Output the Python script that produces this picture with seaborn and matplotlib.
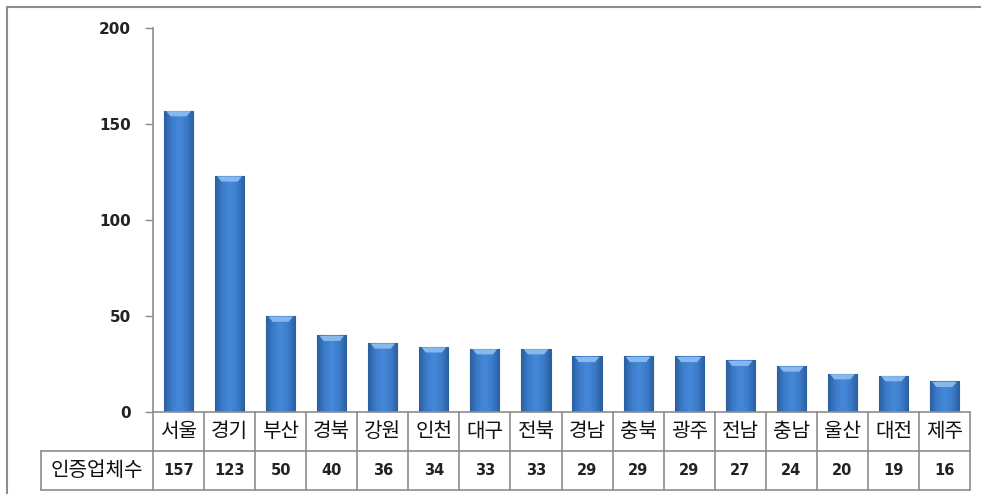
import matplotlib
matplotlib.use("Agg")
import matplotlib.pyplot as plt
import matplotlib.transforms as mtransforms
from matplotlib.lines import Line2D
from matplotlib.colors import LinearSegmentedColormap
import numpy as np
import seaborn as sns
import pandas as pd

regions = ["서울", "경기", "부산", "경북", "강원", "인천", "대구", "전북", "경남",
           "충북", "광주", "전남", "충남", "울산", "대전", "제주"]
counts = [157, 123, 50, 40, 36, 34, 33, 33, 29, 29, 29, 27, 24, 20, 19, 16]
row_label = "인증업체수"
yticks = [0, 50, 100, 150, 200]

sns.set_theme(style="white")
plt.rcParams['font.family'] = ['Noto Sans CJK KR', 'DejaVu Sans']

W, H = 981, 494
fig = plt.figure(figsize=(W / 100, H / 100), dpi=100)
fig.patch.set_facecolor("white")

x0, x1, ytop, ybot = 153, 970, 28, 412
ax = fig.add_axes([x0 / W, 1 - ybot / H, (x1 - x0) / W, (ybot - ytop) / H])

df = pd.DataFrame({"region": regions, "count": counts})
sns.barplot(data=df, x="region", y="count", ax=ax, color="#3D7ED0",
            width=0.57, edgecolor="#2D5F9C", linewidth=0.8, saturation=1)

# gradient shading + lighter bevel on top of each bar
cmap = LinearSegmentedColormap.from_list(
    "bev", ["#2C5E9E", "#3B7CCB", "#4689D8", "#3B7CCB", "#2C5E9E"])
grad = np.linspace(0, 1, 64).reshape(1, -1)
for p in list(ax.patches):
    xb, wb, hb = p.get_x(), p.get_width(), p.get_height()
    im = ax.imshow(grad, extent=[xb, xb + wb, 0, hb], aspect="auto",
                   cmap=cmap, zorder=2.5, interpolation="bicubic")
    im.set_clip_path(p)
    cap = 3.0
    ax.fill([xb + wb * 0.08, xb + wb * 0.92, xb + wb * 0.78, xb + wb * 0.22],
            [hb - 0.3, hb - 0.3, hb - cap, hb - cap],
            color="#86B8EE", lw=0, zorder=3)
ax.set_aspect("auto")

ax.set_xlim(-0.5, len(regions) - 0.5)
ax.set_ylim(0, 200)
ax.set_yticks(yticks)
ax.set_yticklabels([str(t) for t in yticks], fontsize=11, family="DejaVu Sans",
                   fontweight="bold", color="#222222")
ax.set_xticks([])
ax.set_xlabel("")
ax.set_ylabel("")
ax.tick_params(axis="y", direction="out", length=6, width=1, color="#8C8C8C",
               left=True, pad=10)
for s in ["top", "right", "bottom"]:
    ax.spines[s].set_visible(False)
ax.spines["left"].set_color("#8C8C8C")
ax.spines["left"].set_linewidth(1.2)

# data table below the axis
trans = mtransforms.blended_transform_factory(ax.transData, fig.transFigure)
gc = "#8C8C8C"
def fy(py):
    return 1 - py / H

r0, r1, r2 = 412, 451, 490
n = len(regions)
lw = 1.2
for yy in (r0, r1, r2):
    fig.add_artist(Line2D([-0.5, n - 0.5], [fy(yy)] * 2, transform=trans, color=gc, lw=lw))
fig.add_artist(Line2D([41 / W, x0 / W], [fy(r1)] * 2, transform=fig.transFigure, color=gc, lw=lw))
fig.add_artist(Line2D([41 / W, x0 / W], [fy(r2)] * 2, transform=fig.transFigure, color=gc, lw=lw))
fig.add_artist(Line2D([41 / W] * 2, [fy(r1), fy(r2)], transform=fig.transFigure, color=gc, lw=lw))
for i in range(n + 1):
    fig.add_artist(Line2D([i - 0.5] * 2, [fy(r0), fy(r2)], transform=trans, color=gc, lw=lw))

for i, (r, c) in enumerate(zip(regions, counts)):
    fig.text(i, fy((r0 + r1) / 2), r, transform=trans, ha="center", va="center",
             fontsize=14.5, color="#111111")
    fig.text(i, fy((r1 + r2) / 2), str(c), transform=trans, ha="center", va="center",
             fontsize=10.5, family="DejaVu Sans", fontweight="bold", color="#222222")
fig.text((41 + x0) / 2 / W, fy((r1 + r2) / 2), row_label, ha="center", va="center",
         fontsize=14.5, color="#111111")

# outer border (left and top)
fig.add_artist(Line2D([7 / W, 7 / W], [fy(7), 0], transform=fig.transFigure, color="#8C8C8C", lw=1.5))
fig.add_artist(Line2D([7 / W, 1], [fy(7), fy(7)], transform=fig.transFigure, color="#8C8C8C", lw=1.5))

fig.savefig("out.png", dpi=100, facecolor="white")
